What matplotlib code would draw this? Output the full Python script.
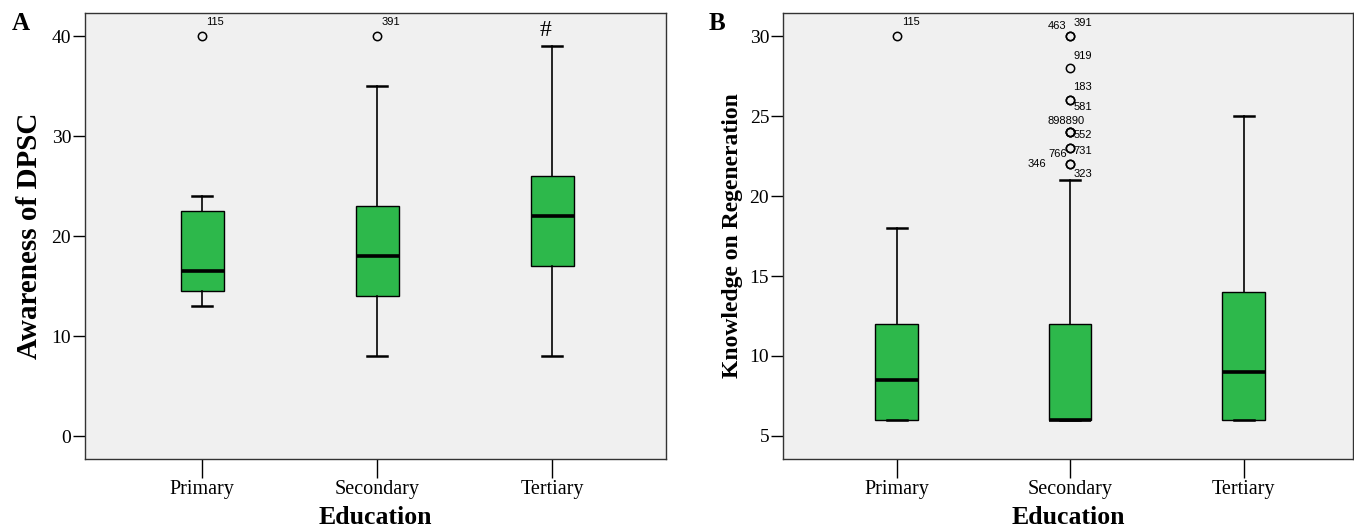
import matplotlib
matplotlib.use("Agg")
import matplotlib.pyplot as plt

categories = ["Primary", "Secondary", "Tertiary"]

# Panel A: Awareness of DPSC
a_whislo = [13, 8, 8]
a_q1 = [14.5, 14, 17]
a_med = [16.5, 18, 22]
a_q3 = [22.5, 23, 26]
a_whishi = [24, 35, 39]
a_fliers = [[40], [40], []]
a_flier_ids = [["115"], ["391"], []]

# Panel B: Knowledge on Regeneration
b_whislo = [6, 6, 6]
b_q1 = [6, 6, 6]
b_med = [8.5, 6, 9]
b_q3 = [12, 12, 14]
b_whishi = [18, 21, 25]
b_fliers = [[30], [30, 30, 28, 26, 26, 24, 24, 24, 23, 23, 22, 22], []]
b_flier_ids = [["115"],
               ["463", "391", "919", "183", "581", "898890", None, "552",
                "766", "731", "346", "323"],
               []]
# label placement (pixel offsets from point, alignment) -- styling only
b_label_place = {
    "115": (5, 14, "left"),
    "463": (-4, 10, "right"), "391": (3, 13, "left"),
    "919": (3, 12, "left"),
    "183": (3, 13, "left"), "581": (3, -7, "left"),
    "898890": (14, 11, "right"), "552": (3, -3, "left"),
    "766": (-3, -6, "right"), "731": (3, -3, "left"),
    "346": (-24, 0, "right"), "323": (3, -10, "left"),
}

GREEN = "#2DB84B"
BG = "#F0F0F0"
SERIF = ["Liberation Serif", "DejaVu Serif"]

fig = plt.figure(figsize=(13.54, 5.29), dpi=100)
axA = fig.add_axes([0.0628, 0.1323, 0.4291, 0.8431])
axB = fig.add_axes([0.5783, 0.1323, 0.4210, 0.8431])


def make_stats(lo, q1, med, q3, hi, fl):
    return [dict(whislo=lo[i], q1=q1[i], med=med[i], q3=q3[i], whishi=hi[i],
                 fliers=fl[i]) for i in range(len(lo))]


def draw(ax, stats, ylim, xlim, yticks, ylabel, ylsize, ylpad):
    ax.set_facecolor(BG)
    ax.bxp(stats, positions=[1, 2, 3], widths=0.245, patch_artist=True,
           boxprops=dict(facecolor=GREEN, edgecolor="black", linewidth=1.0),
           medianprops=dict(color="black", linewidth=2.6),
           whiskerprops=dict(color="black", linewidth=1.2),
           capprops=dict(color="black", linewidth=1.8),
           capwidths=0.115,
           flierprops=dict(marker="o", markerfacecolor="none",
                           markeredgecolor="black", markersize=6,
                           markeredgewidth=1.1))
    ax.set_xlim(*xlim)
    ax.set_ylim(*ylim)
    ax.set_yticks(yticks)
    ax.set_xticks([1, 2, 3])
    ax.set_xticklabels(categories, fontfamily=SERIF, fontsize=14.5)
    for lab in ax.get_yticklabels():
        lab.set_fontfamily(SERIF)
        lab.set_fontsize(14)
    ax.tick_params(axis="y", length=9, width=1, pad=1)
    ax.tick_params(axis="x", length=14, width=1, pad=1)
    for s in ax.spines.values():
        s.set_color("#333333")
        s.set_linewidth(1.0)
    ax.set_xlabel("Education", fontfamily=SERIF, fontsize=18.5,
                  fontweight="bold", labelpad=5)
    ax.set_ylabel(ylabel, fontfamily=SERIF, fontsize=ylsize, fontweight="bold",
                  labelpad=ylpad)


draw(axA, make_stats(a_whislo, a_q1, a_med, a_q3, a_whishi, a_fliers),
     (-2.3, 42.3), (0.33, 3.65), [0, 10, 20, 30, 40], "Awareness of DPSC",
     21, 6)
draw(axB, make_stats(b_whislo, b_q1, b_med, b_q3, b_whishi, b_fliers),
     (3.56, 31.44), (0.345, 3.63), [5, 10, 15, 20, 25, 30],
     "Knowledge on Regeneration", 17, 5)

for i, ids in enumerate(a_flier_ids):
    for j, t in enumerate(ids):
        axA.annotate(t, (i + 1, a_fliers[i][j]), xytext=(4, 14),
                     textcoords="offset pixels", ha="left", va="center",
                     fontsize=8, fontfamily="Liberation Sans")
axA.annotate("#", (3, a_whishi[2]), xytext=(-7, 16), textcoords="offset pixels",
             ha="center", va="center", fontsize=17, fontfamily=SERIF)

for i, ids in enumerate(b_flier_ids):
    for j, t in enumerate(ids):
        if t is None:
            continue
        dx, dy, ha = b_label_place[t]
        axB.annotate(t, (i + 1, b_fliers[i][j]), xytext=(dx, dy),
                     textcoords="offset pixels", ha=ha, va="center",
                     fontsize=8, fontfamily="Liberation Sans")

fig.text(0.009, 0.943, "A", fontfamily=SERIF, fontsize=18, fontweight="bold")
fig.text(0.523, 0.943, "B", fontfamily=SERIF, fontsize=18, fontweight="bold")

fig.savefig("out.png", dpi=100)
